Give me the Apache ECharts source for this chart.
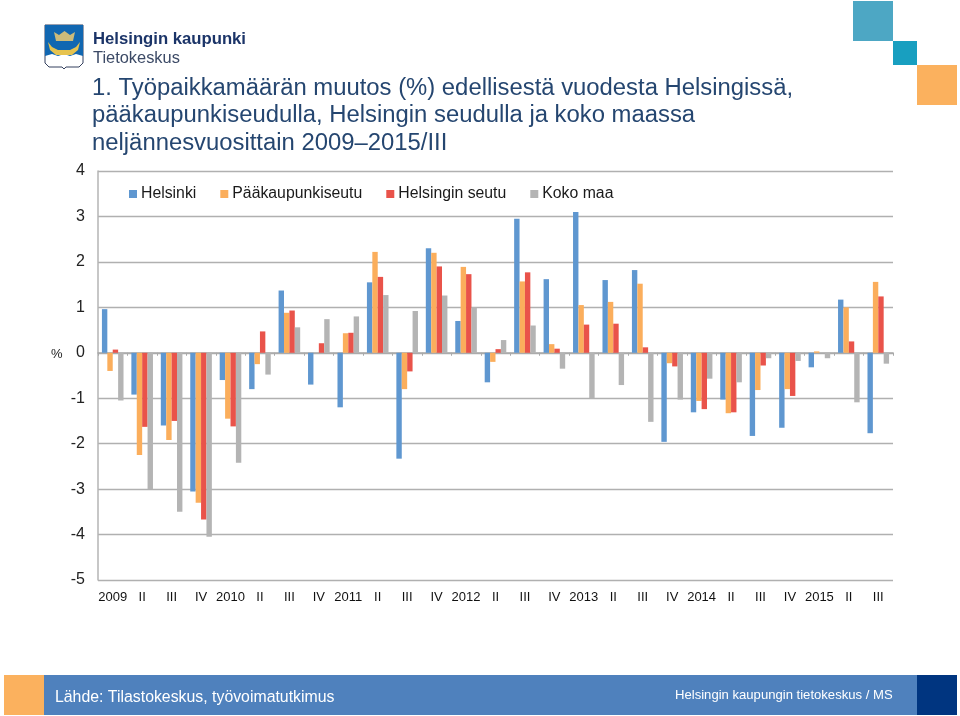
<!DOCTYPE html>
<html><head><meta charset="utf-8">
<style>html,body{margin:0;padding:0;background:#fff}#c{width:960px;height:716px}</style>
<script src="https://cdn.jsdelivr.net/npm/echarts@6/dist/echarts.min.js"></script>
</head><body><div id="c"></div>
<script>
const categories=['2009','II','III','IV','2010','II','III','IV','2011','II','III','IV','2012','II','III','IV','2013','II','III','IV','2014','II','III','IV','2015','II','III'];
const helsinki=[0.96,-0.92,-1.6,-3.05,-0.6,-0.8,1.37,-0.7,-1.2,1.55,-2.33,2.3,0.7,-0.65,2.95,1.62,3.1,1.6,1.82,-1.96,-1.31,-1.03,-1.83,-1.65,-0.32,1.17,-1.77];
const paakaupunkiseutu=[-0.4,-2.25,-1.92,-3.3,-1.45,-0.25,0.88,0,0.43,2.22,-0.8,2.2,1.89,-0.2,1.57,0.19,1.05,1.12,1.52,-0.23,-1.06,-1.33,-0.82,-0.8,0.03,1.0,1.56];
const helsinginSeutu=[0.07,-1.63,-1.5,-3.67,-1.62,0.47,0.93,0.21,0.44,1.67,-0.41,1.9,1.73,0.08,1.77,0.09,0.62,0.64,0.12,-0.3,-1.24,-1.31,-0.28,-0.95,0,0.25,1.24];
const kokoMaa=[-1.05,-3.0,-3.5,-4.05,-2.42,-0.48,0.56,0.74,0.8,1.27,0.92,1.26,1.0,0.28,0.6,-0.35,-1.0,-0.71,-1.52,-1.03,-0.57,-0.65,-0.12,-0.18,-0.12,-1.09,-0.24];
const names=['Helsinki','Pääkaupunkiseutu','Helsingin seutu','Koko maa'];
const colors=['#5f97d0','#fbae5c','#e9534a','#b4b4b4'];
const F='"Liberation Sans",Arial,sans-serif';
const chart=echarts.init(document.getElementById('c'),null,{renderer:'canvas'});
const mk=(n,d,c)=>({name:n,type:'bar',data:d,barWidth:5.4,barGap:'0%',itemStyle:{color:c},silent:true,z:3});
chart.setOption({
 animation:false,backgroundColor:'#fff',
 grid:{left:98,right:67,top:171,bottom:136,containLabel:false},
 legend:{data:names,left:124,top:181,itemWidth:8,itemHeight:8,itemGap:24,icon:'rect',selectedMode:false,
   textStyle:{fontFamily:F,fontSize:15.8,color:'#1a1a1a',padding:[0,0,0,-1]}},
 xAxis:{type:'category',data:categories,position:'bottom',
   axisLine:{onZero:true,lineStyle:{color:'#a9a9a9',width:1.5}},
   axisTick:{show:true,inside:false,length:3,lineStyle:{color:'#a9a9a9'}},
   axisLabel:{interval:0,fontFamily:F,fontSize:13,color:'#111',margin:11}},
 yAxis:{type:'value',min:-5,max:4,interval:1,
   axisLine:{show:true,lineStyle:{color:'#b5b5b5',width:1.5}},
   axisTick:{show:false},
   axisLabel:{fontFamily:F,fontSize:16,color:'#222',margin:13},
   splitLine:{show:true,lineStyle:{color:'#b0b0b0',width:1.3}}},
 series:[mk(names[0],helsinki,colors[0]),mk(names[1],paakaupunkiseutu,colors[1]),mk(names[2],helsinginSeutu,colors[2]),mk(names[3],kokoMaa,colors[3])],
 graphic:[
  {type:'rect',shape:{x:853,y:1,width:40,height:40},style:{fill:'#4da7c4'}},
  {type:'rect',shape:{x:893,y:41,width:24,height:24},style:{fill:'#189fc0'}},
  {type:'rect',shape:{x:917,y:65,width:40,height:40},style:{fill:'#fbb15e'}},
  {type:'text',style:{x:92,y:76,text:'1. Työpaikkamäärän muutos (%) edellisestä vuodesta Helsingissä,',font:'23.85px '+F,fill:'#254670'}},
  {type:'text',style:{x:92,y:103,text:'pääkaupunkiseudulla, Helsingin seudulla ja koko maassa',font:'23.85px '+F,fill:'#254670'}},
  {type:'text',style:{x:92,y:131,text:'neljännesvuosittain 2009–2015/III',font:'23.85px '+F,fill:'#254670'}},
  {type:'text',style:{x:51,y:348,text:'%',font:'13px '+F,fill:'#222'}},
  {type:'text',style:{x:93,y:31,text:'Helsingin kaupunki',font:'bold 16.7px '+F,fill:'#1b3468'}},
  {type:'text',style:{x:93,y:50,text:'Tietokeskus',font:'16.4px '+F,fill:'#3c4a66'}},
  {type:'polygon',shape:{points:[[45,25],[83,25],[83,63],[79,67],[66,67],[64,69],[62,67],[49,67],[45,63]]},style:{fill:'#fff',stroke:'#34405e',lineWidth:1}},
  {type:'polygon',shape:{points:[[45,25],[83,25],[83,56],[76,54],[70,56],[64,54],[58,56],[52,54],[45,56]]},style:{fill:'#1167b1'}},
  {type:'polygon',shape:{points:[[54,32],[59,35],[64.5,31],[70,35],[75,32],[73,41],[56,41]]},style:{fill:'#cdbb7a'}},
  {type:'polygon',shape:{points:[[48,42],[52,47],[58,50],[70,50],[76,47],[80,42],[78,50],[72,55],[56,55],[50,50]]},style:{fill:'#e6c34f'}},
  {type:'rect',shape:{x:4,y:675,width:40,height:40},style:{fill:'#fbb15e'}},
  {type:'rect',shape:{x:44,y:675,width:873,height:40},style:{fill:'#4f81bd'}},
  {type:'rect',shape:{x:917,y:675,width:40,height:40},style:{fill:'#003580'}},
  {type:'text',style:{x:55,y:690,text:'Lähde: Tilastokeskus, työvoimatutkimus',font:'15.85px '+F,fill:'#fff'}},
  {type:'text',style:{x:675,y:689,text:'Helsingin kaupungin tietokeskus / MS',font:'13.1px '+F,fill:'#fff'}}
 ]
});
</script></body></html>
